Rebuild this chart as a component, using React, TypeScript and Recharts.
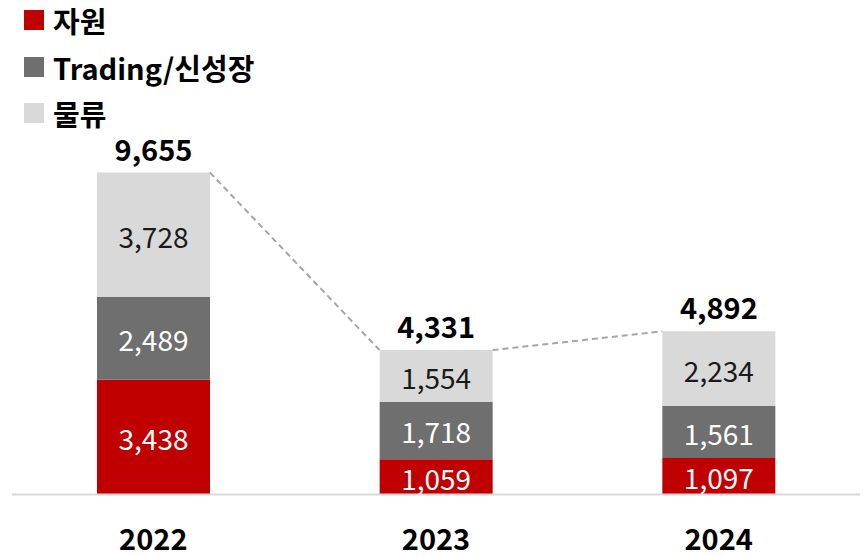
import { Bar, BarChart, LabelList, ReferenceLine, XAxis, YAxis } from 'recharts';

const years = ['2022', '2023', '2024'];
const resource = [3438, 1059, 1097];
const trading = [2489, 1718, 1561];
const logistics = [3728, 1554, 2234];
const totals = [9655, 4331, 4892];

const seriesNames = ['자원', 'Trading/신성장', '물류'];
const seriesColors = ['#C00000', '#6F6F6F', '#D9D9D9'];

const FONT = "'Noto Sans CJK KR', 'Noto Sans', sans-serif";
const BAR_SIZE = 113;

const data = years.map((year, i) => ({
  year,
  resource: resource[i],
  trading: trading[i],
  logistics: logistics[i],
  total: totals[i],
}));

// dashed connectors between the tops of neighbouring stacks
const connectors = years.slice(0, -1).map((y, i) => [
  { x: y, y: totals[i] },
  { x: years[i + 1], y: totals[i + 1] },
]);

const fmt = (v: any) => Number(v).toLocaleString('en-US');

// segment endpoints land on the bar centres; pull them out to the bar edges
function EdgeConnector(props: any) {
  const { x1, y1, x2, y2 } = props;
  const half = BAR_SIZE / 2;
  return (
    <line
      x1={x1 + half}
      y1={y1}
      x2={x2 - half}
      y2={y2}
      stroke="#A6A6A6"
      strokeWidth={2}
      strokeDasharray="6 4"
    />
  );
}

function YearTick({ x, y, payload }: any) {
  return (
    <text
      x={x}
      y={y}
      dy={55}
      textAnchor="middle"
      fontFamily={FONT}
      fontWeight={700}
      fontSize={29}
      fill="#000"
    >
      {payload.value}
    </text>
  );
}

function LegendBlock() {
  return (
    <div style={{ position: 'absolute', left: 24, top: 0, fontFamily: FONT }}>
      {seriesNames.map((name, i) => (
        <div
          key={name}
          style={{ position: 'absolute', left: 0, top: i * 46.5, height: 40, display: 'flex', alignItems: 'center', whiteSpace: 'nowrap' }}
        >
          <span style={{ width: 20, height: 20, background: seriesColors[i], display: 'inline-block' }} />
          <span style={{ marginLeft: 9, fontSize: 29, fontWeight: 700, color: '#000', lineHeight: '40px' }}>
            {name}
          </span>
        </div>
      ))}
    </div>
  );
}

export default function App() {
  return (
    <div style={{ position: 'absolute', left: 0, top: 0, width: 864, height: 557, background: '#fff' }}>
      <BarChart
        width={864}
        height={557}
        data={data}
        margin={{ top: 161, right: 4, left: 12, bottom: 0 }}
        barSize={BAR_SIZE}
      >
        <XAxis
          dataKey="year"
          height={62.5}
          axisLine={{ stroke: '#D9D9D9', strokeWidth: 2 }}
          tickLine={false}
          tickSize={0}
          tickMargin={0}
          tick={<YearTick />}
          interval={0}
        />
        <YAxis domain={[0, 10000]} hide />
        <Bar dataKey="resource" stackId="a" fill={seriesColors[0]} isAnimationActive={false}>
          <LabelList dataKey="resource" position="center" formatter={fmt} fill="#fff" fontSize={28} fontFamily={FONT} dy={3} />
        </Bar>
        <Bar dataKey="trading" stackId="a" fill={seriesColors[1]} isAnimationActive={false}>
          <LabelList dataKey="trading" position="center" formatter={fmt} fill="#fff" fontSize={28} fontFamily={FONT} dy={3} />
        </Bar>
        <Bar dataKey="logistics" stackId="a" fill={seriesColors[2]} isAnimationActive={false}>
          <LabelList dataKey="logistics" position="center" formatter={fmt} fill="#1a1a1a" fontSize={28} fontFamily={FONT} dy={3} />
          <LabelList dataKey="total" position="top" offset={12} formatter={fmt} fill="#000" fontSize={29} fontWeight={700} fontFamily={FONT} />
        </Bar>
        {connectors.map((seg, i) => (
          <ReferenceLine key={i} segment={seg} shape={<EdgeConnector />} ifOverflow="visible" />
        ))}
      </BarChart>
      <LegendBlock />
    </div>
  );
}
